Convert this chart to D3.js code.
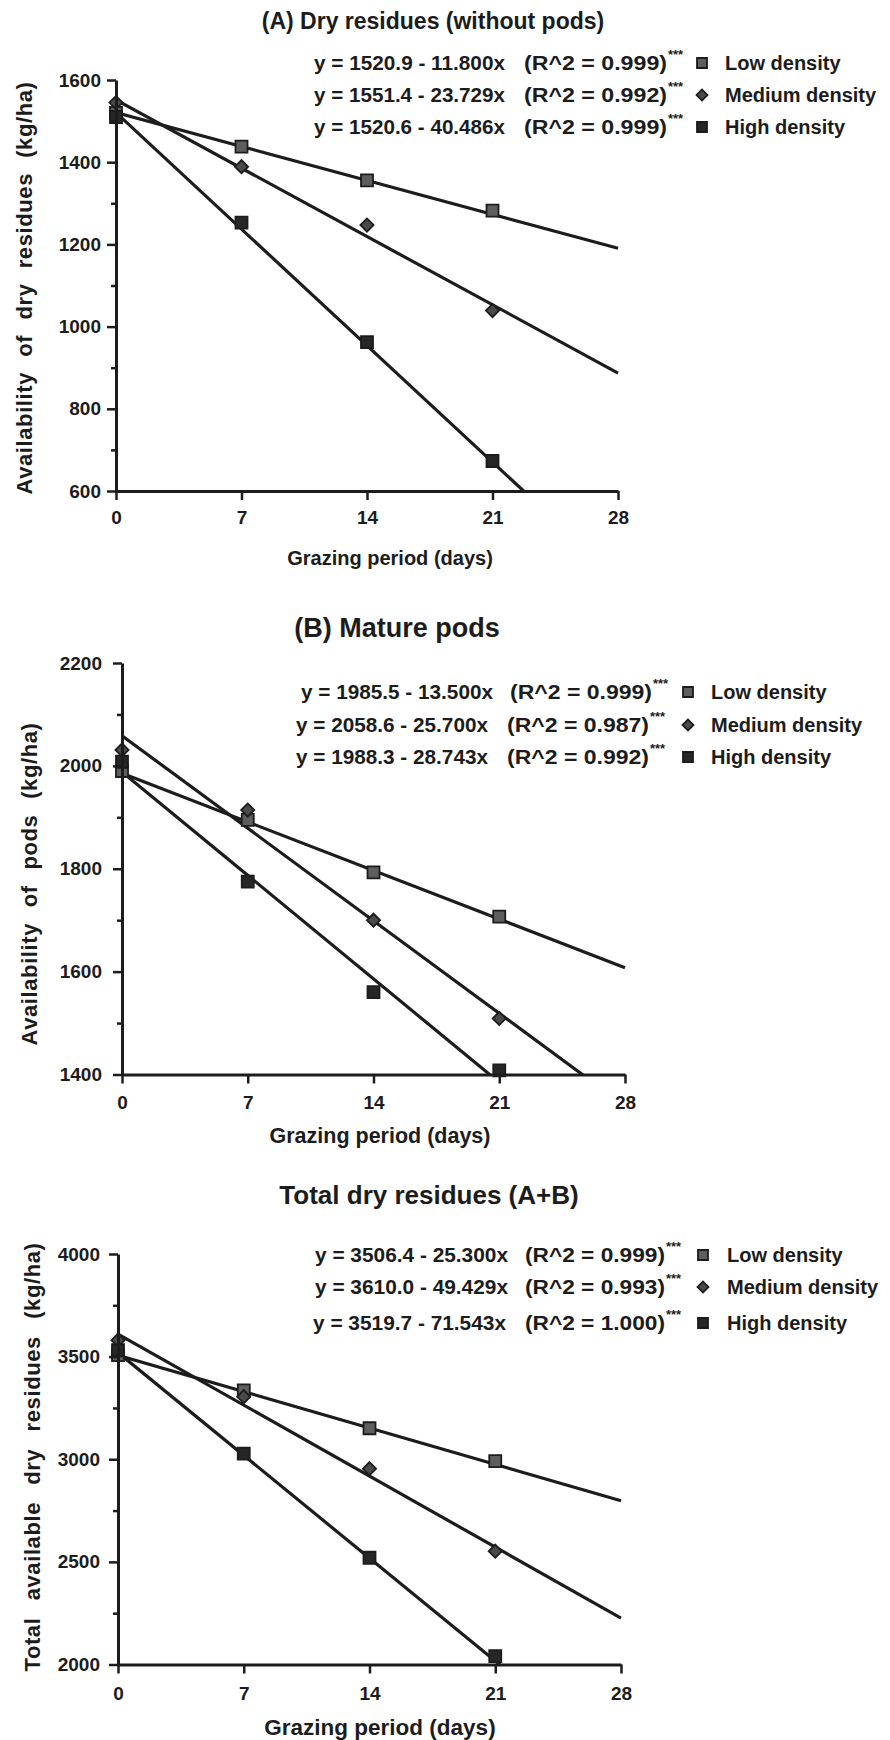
<!DOCTYPE html>
<html><head><meta charset="utf-8">
<script src="https://cdn.jsdelivr.net/npm/d3@7"></script>
<style>
body{margin:0;background:#fff;}
svg{display:block;font-family:"Liberation Sans",Arial,Helvetica,sans-serif;font-weight:bold;}
</style></head><body>
<svg id="chart" width="890" height="1740"></svg>
<script>
// ---------- shared ----------
const days = [0, 7, 14, 21];
const xTicks = [0, 7, 14, 21, 28];
const xMax = 28;
const seriesNames = ["Low density", "Medium density", "High density"];
const xLabel = "Grazing period (days)";

// ---------- Panel A ----------
const titleA = "(A) Dry residues (without pods)";
const yLabelA = "Availability of dry residues (kg/ha)";
const aLow = [1520, 1438, 1356, 1282];
const aMedium = [1545, 1389, 1247, 1039];
const aHigh = [1510, 1253, 962, 673];
const aIntercept = [1520.9, 1551.4, 1520.6];
const aSlope = [11.800, 23.729, 40.486];
const aEquation = ["y = 1520.9 - 11.800x", "y = 1551.4 - 23.729x", "y = 1520.6 - 40.486x"];
const aR2 = ["(R^2 = 0.999)", "(R^2 = 0.992)", "(R^2 = 0.999)"];
const aYTicks = [600, 800, 1000, 1200, 1400, 1600];
const aYMinor = [700, 900, 1100, 1300, 1500];

// ---------- Panel B ----------
const titleB = "(B) Mature pods";
const yLabelB = "Availability of pods (kg/ha)";
const bLow = [1990, 1895, 1793, 1707];
const bMedium = [2031, 1914, 1700, 1509];
const bHigh = [2008, 1775, 1560, 1408];
const bIntercept = [1985.5, 2058.6, 1988.3];
const bSlope = [13.500, 25.700, 28.743];
const bEquation = ["y = 1985.5 - 13.500x", "y = 2058.6 - 25.700x", "y = 1988.3 - 28.743x"];
const bR2 = ["(R^2 = 0.999)", "(R^2 = 0.987)", "(R^2 = 0.992)"];
const bYTicks = [1400, 1600, 1800, 2000, 2200];
const bYMinor = [1500, 1700, 1900, 2100];

// ---------- Panel C ----------
const titleC = "Total dry residues (A+B)";
const yLabelC = "Total available dry residues (kg/ha)";
const cLow = [3507, 3336, 3151, 2991];
const cMedium = [3580, 3305, 2954, 2552];
const cHigh = [3531, 3027, 2520, 2041];
const cIntercept = [3506.4, 3610.0, 3519.7];
const cSlope = [25.300, 49.429, 71.543];
const cEquation = ["y = 3506.4 - 25.300x", "y = 3610.0 - 49.429x", "y = 3519.7 - 71.543x"];
const cR2 = ["(R^2 = 0.999)", "(R^2 = 0.993)", "(R^2 = 1.000)"];
const cYTicks = [2000, 2500, 3000, 3500, 4000];
const cYMinor = [2250, 2750, 3250, 3750];

const stars = "***";

// ---------- layout (positions/styles) ----------
const panels = [
  {id:"A", title:titleA, yLabel:yLabelA, series:[aLow,aMedium,aHigh], intercept:aIntercept, slope:aSlope,
   eq:aEquation, r2:aR2, yTicks:aYTicks, yMinor:aYMinor,
   L:{x0:116, x1:618, yTop:80, yBot:491, title:[433,21,23], eqX:[314,314,314], eqLen:191, r2X:[524,524,524], r2Len:143,
      mkX:702, lbX:725, ys:[63,95,127], xlab:[390,558,20], ylab:[24,288,413], xPad:11, yPad:6}},
  {id:"B", title:titleB, yLabel:yLabelB, series:[bLow,bMedium,bHigh], intercept:bIntercept, slope:bSlope,
   eq:bEquation, r2:bR2, yTicks:bYTicks, yMinor:bYMinor,
   L:{x0:122, x1:625, yTop:663, yBot:1074.5, title:[397,628,27], eqX:[301,296,296], eqLen:192, r2X:[510,507,507], r2Len:142,
      mkX:688, lbX:711, ys:[692,725,757], xlab:[380,1135,21.5], ylab:[29,884,323], xPad:12.5, yPad:11}},
  {id:"C", title:titleC, yLabel:yLabelC, series:[cLow,cMedium,cHigh], intercept:cIntercept, slope:cSlope,
   eq:cEquation, r2:cR2, yTicks:cYTicks, yMinor:cYMinor,
   L:{x0:118, x1:621, yTop:1254, yBot:1664.5, title:[429,1195,26], eqX:[315,315,313], eqLen:193, r2X:[525,525,525], r2Len:140,
      mkX:703, lbX:727, ys:[1255,1287,1323], xlab:[380,1727,22.5], ylab:[32,1457,429], xPad:13.5, yPad:9}}
];

const ink = "#1c1c1c";
const svg = d3.select("#chart");
const defs = svg.append("defs");

function marker(sel, kind, cx, cy, s) {
  if (kind === 1) {
    sel.append("path").attr("d", d3.symbol(d3.symbolSquare, s*s*0.6)())
      .attr("transform", `translate(${cx},${cy}) rotate(45)`)
      .attr("fill", "#4a4a4a").attr("stroke", ink).attr("stroke-width", 1.8);
  } else {
    sel.append("path").attr("d", d3.symbol(d3.symbolSquare, s*s)())
      .attr("transform", `translate(${cx},${cy})`)
      .attr("fill", kind === 0 ? "#5e5e5e" : "#262626").attr("stroke", ink).attr("stroke-width", 1.8);
  }
}

panels.forEach(p => {
  const L = p.L;
  const x = d3.scaleLinear().domain([0, xMax]).range([L.x0, L.x1]);
  const y = d3.scaleLinear().domain([p.yTicks[0], p.yTicks[p.yTicks.length-1]]).range([L.yBot, L.yTop]);
  const g = svg.append("g");

  // title
  g.append("text").attr("x", L.title[0]).attr("y", L.title[1]).attr("dy", "0.35em")
    .attr("text-anchor", "middle").attr("font-size", L.title[2]).attr("fill", ink).text(p.title);

  // regression lines
  defs.append("clipPath").attr("id", "clip" + p.id).append("rect")
    .attr("x", L.x0).attr("y", L.yTop - 40).attr("width", L.x1 - L.x0 + 3).attr("height", L.yBot - L.yTop + 40);
  const lg = g.append("g").attr("clip-path", `url(#clip${p.id})`);
  p.intercept.forEach((b, i) => {
    const pts = [0, xMax].map(d => [x(d), y(b - p.slope[i] * d)]);
    lg.append("path").attr("d", d3.line()(pts)).attr("fill", "none")
      .attr("stroke", ink).attr("stroke-width", 3.2);
  });

  // markers
  const mg = g.append("g");
  p.series.forEach((vals, i) => {
    vals.forEach((v, j) => marker(mg, i, x(days[j]), y(v), 12));
  });

  // axes
  const xa = g.append("g").attr("transform", `translate(0,${L.yBot})`)
    .call(d3.axisBottom(x).tickValues(xTicks).tickSize(9).tickSizeOuter(0).tickPadding(L.xPad).tickFormat(d3.format("d")));
  const ya = g.append("g").attr("transform", `translate(${L.x0},0)`)
    .call(d3.axisLeft(y).tickValues(p.yTicks).tickSize(9).tickSizeOuter(0).tickPadding(L.yPad).tickFormat(d3.format("d")));
  const ym = g.append("g").attr("transform", `translate(${L.x0},0)`)
    .call(d3.axisLeft(y).tickValues(p.yMinor).tickSize(5).tickFormat(""));
  ym.select(".domain").remove();
  [xa, ya, ym].forEach(a => {
    a.attr("font-family", null).attr("font-size", null);
    a.selectAll(".domain").attr("stroke", ink).attr("stroke-width", 3);
    a.selectAll(".tick line").attr("stroke", ink).attr("stroke-width", 2.5);
    a.selectAll(".tick text").attr("fill", ink).attr("font-size", 19).attr("font-weight", "bold");
  });

  // axis labels
  g.append("text").attr("x", L.xlab[0]).attr("y", L.xlab[1]).attr("dy", "0.35em")
    .attr("text-anchor", "middle").attr("font-size", L.xlab[2]).attr("fill", ink).text(xLabel);
  const yl = g.append("text").attr("transform", `translate(${L.ylab[0]},${L.ylab[1]}) rotate(-90)`)
    .attr("dy", "0.35em").attr("text-anchor", "middle").attr("font-size", 22)
    .style("letter-spacing", "0.6px").attr("fill", ink).text(p.yLabel);
  const natural = yl.node().getComputedTextLength();
  const gaps = p.yLabel.split(" ").length - 1;
  yl.style("word-spacing", Math.max(0, (L.ylab[2] - natural) / gaps) + "px");

  // legend
  p.eq.forEach((e, i) => {
    const yy = L.ys[i];
    g.append("text").attr("x", L.eqX[i]).attr("y", yy).attr("dy", "0.35em")
      .attr("font-size", 21).attr("textLength", L.eqLen).attr("lengthAdjust", "spacingAndGlyphs")
      .attr("fill", ink).text(e);
    g.append("text").attr("x", L.r2X[i]).attr("y", yy).attr("dy", "0.35em")
      .attr("font-size", 21).attr("textLength", L.r2Len).attr("lengthAdjust", "spacingAndGlyphs")
      .attr("fill", ink).text(p.r2[i]);
    g.append("text").attr("x", L.r2X[i] + L.r2Len + 1).attr("y", yy - 4)
      .attr("font-size", 13).attr("fill", ink).text(stars);
    marker(g, i, L.mkX, yy, 10);
    g.append("text").attr("x", L.lbX).attr("y", yy).attr("dy", "0.35em")
      .attr("font-size", 20).attr("fill", ink).text(seriesNames[i]);
  });
});
</script>
</body></html>
